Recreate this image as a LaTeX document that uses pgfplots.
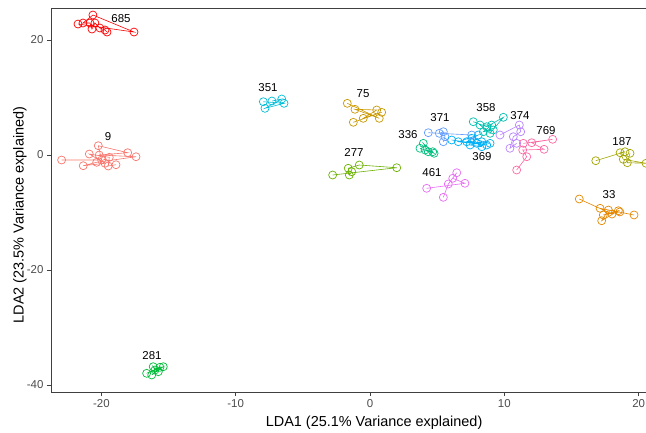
\documentclass[border=0pt]{standalone}
\usepackage{fontspec}
\setmainfont{Liberation Sans}
\usepackage{pgfplots}
\pgfplotsset{compat=1.18}

\definecolor{c685}{HTML}{FF0000}
\definecolor{c9}{HTML}{F8766D}
\definecolor{c33}{HTML}{E58700}
\definecolor{c75}{HTML}{C99800}
\definecolor{c187}{HTML}{A3A500}
\definecolor{c277}{HTML}{6BB100}
\definecolor{c281}{HTML}{00BA38}
\definecolor{c336}{HTML}{00BF7D}
\definecolor{c351}{HTML}{00BCD8}
\definecolor{c358}{HTML}{00C0AF}
\definecolor{c369}{HTML}{00B0F6}
\definecolor{c371}{HTML}{619CFF}
\definecolor{c374}{HTML}{B983FF}
\definecolor{c461}{HTML}{E76BF3}
\definecolor{c769}{HTML}{FF67A4}

\begin{document}
\begin{tikzpicture}
\begin{axis}[
    name=ax,
    scale only axis,
    width=595bp, height=384bp,
    xmin=-23.75, xmax=20.55,
    ymin=-41.22, ymax=25.57,
    axis x line=box, axis y line=left,
    axis line style={-, draw=black!75, line width=0.6bp},
    xtick={-20,-10,0,10,20}, ytick={-40,-20,0,20},
    xtick pos=bottom, ytick pos=left,
    tick align=outside, major tick length=4bp,
    tick style={black!75, line width=0.6bp},
    tick label style={font=\fontsize{11.5}{11.5}\selectfont, text=black!70},
    /pgf/number format/assume math mode=true,
    xlabel={LDA1 (25.1\% Variance explained)},
    ylabel={LDA2 (23.5\% Variance explained)},
    label style={font=\fontsize{14.5}{14.5}\selectfont, inner sep=0pt},
    x label style={at={(rel axis cs:0.543,0)}, anchor=center, yshift=-31bp},
    y label style={at={(rel axis cs:0,0.461)}, anchor=center, yshift=31bp},
    every axis plot/.append style={line width=0.6bp, mark=o, mark size=4bp, mark options={solid, line width=0.7bp}},
    clip=false,
]
% 685
\addplot[c685] coordinates {(-21.74,22.78) (-17.57,21.39) (-20.63,24.35) (-21.37,22.96) (-20.85,22.96) (-20.70,21.91) (-20.48,22.96) (-20.11,22.09) (-19.73,21.74) (-19.58,21.39)};
% 9
\addplot[c9] coordinates {(-22.96,-0.87) (-19.98,-0.87) (-20.23,1.62) (-18.04,0.40) (-20.16,0.00) (-17.42,-0.30) (-20.35,-1.27) (-21.35,-1.86) (-19.73,-1.44) (-20.90,0.17) (-19.41,-0.40) (-19.49,-1.91) (-18.91,-1.69)};
% 281
\addplot[c281] coordinates {(-16.63,-37.97) (-15.64,-36.92) (-16.25,-38.26) (-15.39,-36.82) (-16.01,-37.39) (-16.14,-36.82) (-15.76,-37.69)};
% 351
\addplot[c351] coordinates {(-7.94,9.27) (-6.40,8.99) (-7.82,8.12) (-6.57,9.74) (-7.30,9.39)};
% 75
\addplot[c75] coordinates {(-1.69,8.99) (0.69,6.38) (-1.12,7.95) (0.50,7.83) (-0.50,6.38) (0.87,7.43) (-1.24,5.69)};
% 277
\addplot[c277] coordinates {(-2.78,-3.48) (1.99,-2.21) (-0.80,-1.74) (-1.62,-2.31) (-1.54,-3.48) (-1.36,-2.90)};
% 461
\addplot[c461] coordinates {(4.22,-5.79) (7.07,-4.92) (6.16,-4.05) (6.46,-3.08) (5.83,-5.04) (5.46,-7.36)};
% 336
\addplot[c336] coordinates {(3.72,1.17) (4.77,0.30) (3.97,2.03) (4.34,0.57) (4.10,0.87) (4.67,0.57)};
% 371
\addplot[c371] coordinates {(4.34,3.88) (7.57,3.48) (5.16,3.77) (5.46,4.05) (5.58,3.18) (5.46,2.31)};
% 369
\addplot[c369] coordinates {(6.08,2.61) (8.69,1.74) (6.57,2.31) (8.06,3.48) (7.20,2.31) (8.94,2.03) (7.57,2.90) (8.32,1.44) (7.45,1.74) (7.94,2.03) (8.32,2.31)};
% 358
\addplot[c358] coordinates {(7.69,5.79) (8.69,4.92) (9.93,6.56) (8.94,3.77) (8.19,5.22) (9.06,5.22) (8.44,4.05) (9.18,4.35)};
% 374
\addplot[c374] coordinates {(9.68,3.48) (11.12,5.22) (11.22,4.05) (10.67,3.18) (10.42,1.17) (10.92,2.03)};
% 769
\addplot[c769] coordinates {(11.42,2.03) (13.60,2.73) (12.04,2.14) (12.96,0.99) (11.37,0.87) (11.67,-0.30) (10.92,-2.61)};
% 187
\addplot[c187] coordinates {(16.81,-0.99) (18.99,0.57) (18.62,0.40) (18.86,-0.75) (20.55,-1.44) (19.16,-1.34) (19.36,0.30)};
% 33
\addplot[c33] coordinates {(15.58,-7.65) (18.02,-10.26) (17.13,-9.27) (19.66,-10.43) (17.75,-9.57) (17.25,-11.43) (18.49,-9.69) (17.37,-10.43) (18.60,-9.90)};

% group labels
\begin{scope}[every node/.style={font=\fontsize{11.5}{11.5}\selectfont, text=black}]
\node at (-18.54,23.8) {685};
\node at (-19.51,3.13) {9};
\node at (-16.23,-34.8) {281};
\node at (-7.59,11.65) {351};
\node at (-0.52,10.6) {75};
\node at (-1.19,0.35) {277};
\node at (2.83,3.48) {336};
\node at (5.21,6.6) {371};
\node at (8.64,8.17) {358};
\node at (11.17,6.78) {374};
\node at (13.1,4.17) {769};
\node at (8.34,-0.35) {369};
\node at (4.62,-3.13) {461};
\node at (18.76,2.26) {187};
\node at (17.8,-6.96) {33};
\end{scope}
\end{axis}
\pgfresetboundingbox
\path[use as bounding box] ([shift={(-51bp,-41bp)}]ax.south west) rectangle ([shift={(0bp,8bp)}]ax.north east);
\end{tikzpicture}
\end{document}
